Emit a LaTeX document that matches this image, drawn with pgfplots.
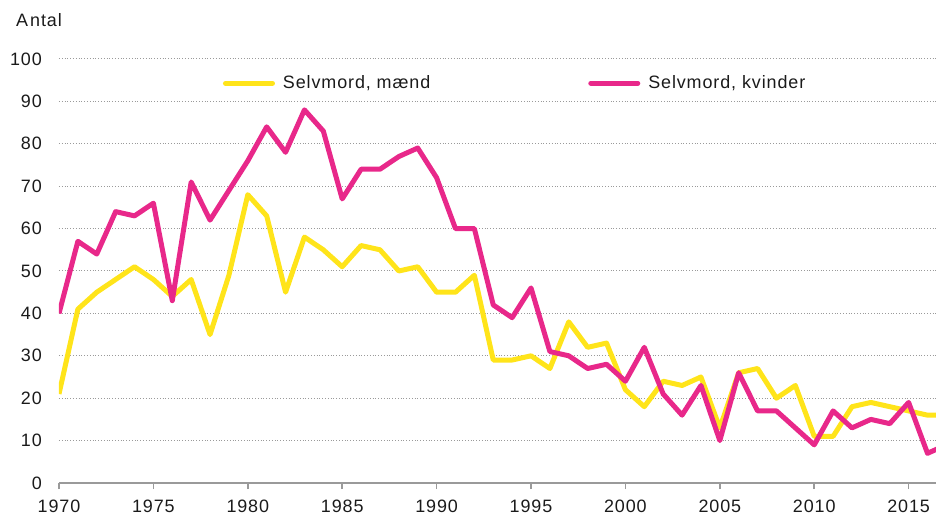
\documentclass[border=0pt]{standalone}
\usepackage{pgfplots}
\pgfplotsset{compat=1.18}
\usepackage{fontspec}
\setmainfont{Liberation Sans}[LetterSpace=5]
\definecolor{myyellow}{HTML}{FFE41A}
\definecolor{mypink}{HTML}{E8288A}
\definecolor{gridgray}{HTML}{9A9A9A}
\definecolor{txt}{HTML}{1A1A1A}
\begin{document}
\begin{tikzpicture}
\path[use as bounding box] (-59bp,-33bp) rectangle (877bp,483bp);
\begin{axis}[
  at={(0,0)}, anchor=south west,
  scale only axis, width=877bp, height=424bp,
  xmin=1970, xmax=2016.45, ymin=0, ymax=100,
  xtick={1970,1975,...,2015}, ytick={0,10,...,100},
  axis x line=bottom, axis y line=left,
  x axis line style={gridgray, line width=1.5bp, -},
  y axis line style={draw=none},
  ytick style={draw=none},
  xtick style={gridgray, line width=1.5bp},
  tick align=outside, major tick length=6bp,
  ymajorgrids, major grid style={gridgray, line width=1bp, dash pattern=on 1bp off 1.8bp},
  /pgf/number format/assume math mode=true,
  /pgf/number format/1000 sep={},
  tick label style={font=\fontsize{18}{20}\selectfont, text=txt},
  yticklabel style={inner sep=0pt, anchor=east, xshift=-11bp},
  xticklabel style={inner sep=0pt, anchor=north, yshift=-10.5bp},
  legend columns=2,
  legend cell align=left,
  legend style={draw=none, fill=none, inner sep=0pt, outer sep=0pt,
    font=\fontsize{18}{20}\selectfont, text=txt,
    anchor=west, at={(axis description cs:0.187,0.943)},
    nodes={inner sep=0pt},
    /tikz/every odd column/.append style={column sep=8bp},
    /tikz/every even column/.append style={column sep=158bp}},
  legend image code/.code={\draw[#1, line cap=round] (2.5bp,0bp) -- (49.5bp,0bp);},
  clip=true,
]
\addplot[myyellow, line width=5bp, line join=round] coordinates {
(1970,21)(1971,41)(1972,45)(1973,48)(1974,51)(1975,48)(1976,44)(1977,48)(1978,35)(1979,49)
(1980,68)(1981,63)(1982,45)(1983,58)(1984,55)(1985,51)(1986,56)(1987,55)(1988,50)(1989,51)
(1990,45)(1991,45)(1992,49)(1993,29)(1994,29)(1995,30)(1996,27)(1997,38)(1998,32)(1999,33)
(2000,22)(2001,18)(2002,24)(2003,23)(2004,25)(2005,13)(2006,26)(2007,27)(2008,20)(2009,23)
(2010,11)(2011,11)(2012,18)(2013,19)(2014,18)(2015,17)(2016,16)(2017,16)
};
\addlegendentry{Selvmord, mænd}
\addplot[mypink, line width=5bp, line join=round] coordinates {
(1970,40)(1971,57)(1972,54)(1973,64)(1974,63)(1975,66)(1976,43)(1977,71)(1978,62)(1979,69)
(1980,76)(1981,84)(1982,78)(1983,88)(1984,83)(1985,67)(1986,74)(1987,74)(1988,77)(1989,79)
(1990,72)(1991,60)(1992,60)(1993,42)(1994,39)(1995,46)(1996,31)(1997,30)(1998,27)(1999,28)
(2000,24)(2001,32)(2002,21)(2003,16)(2004,23)(2005,10)(2006,26)(2007,17)(2008,17)(2009,13)
(2010,9)(2011,17)(2012,13)(2013,15)(2014,14)(2015,19)(2016,7)(2017,9)
};
\addlegendentry{Selvmord, kvinder}
\end{axis}
\node[anchor=west, inner sep=0pt, font=\fontsize{18}{20}\selectfont, text=txt] at (-43bp,463bp) {A\hspace{2bp}ntal};
\end{tikzpicture}
\end{document}
